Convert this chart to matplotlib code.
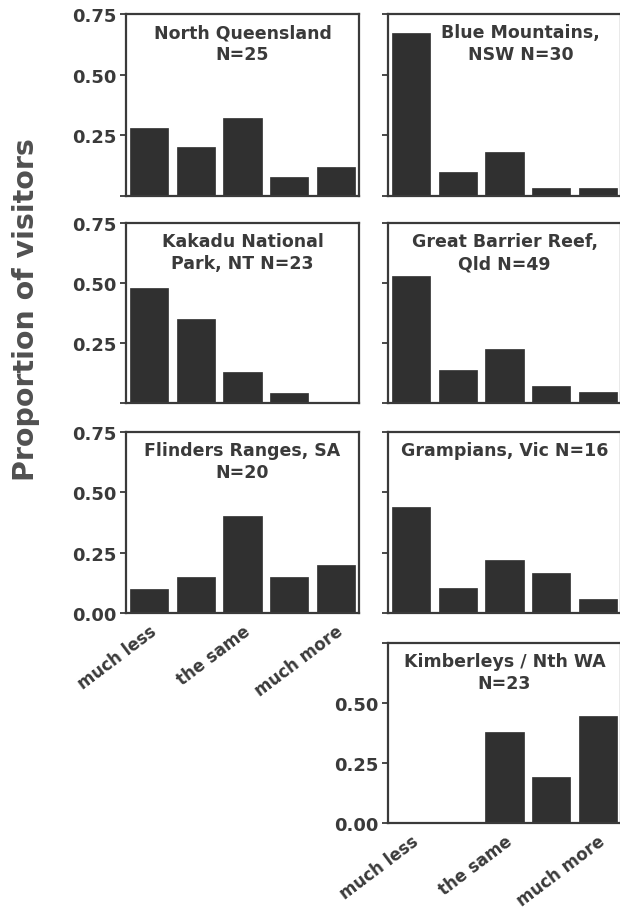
#Proportion of visitors by region, small multiples of bar charts

import numpy as np
import matplotlib
matplotlib.use('Agg')
import matplotlib.pyplot as plt

#response categories (only every second one is labelled on the axis)
categories = ['much less', 'less', 'the same', 'more', 'much more']
xtick_labels = ['much less', 'the same', 'much more']

#panel titles
titles = ['North Queensland\nN=25', 'Blue Mountains,\nNSW N=30',
          'Kakadu National\nPark, NT N=23', 'Great Barrier Reef,\nQld N=49',
          'Flinders Ranges, SA\nN=20', 'Grampians, Vic N=16',
          'Kimberleys / Nth WA\nN=23']

#proportions
north_qld = [0.28, 0.20, 0.32, 0.08, 0.12]
blue_mtns = [0.67, 0.10, 0.18, 0.033, 0.033]
kakadu = [0.478, 0.348, 0.13, 0.04, 0.0]
gbr = [0.53, 0.136, 0.224, 0.07, 0.045]
flinders = [0.10, 0.15, 0.40, 0.15, 0.20]
grampians = [0.44, 0.103, 0.218, 0.165, 0.058]
kimberleys = [0.0, 0.0, 0.38, 0.19, 0.446]

yticks = [0.0, 0.25, 0.5, 0.75]
ytick_labels = ['0.00', '0.25', '0.50', '0.75']

txt_col = '#3a3a3a'
bar_col = '#303030'

#makes one panel
def panel(fig, rect, vals, title, ylab_mask, show_x, title_x=0.5):
    ax = fig.add_axes(rect)
    x = np.arange(len(categories))
    ax.bar(x, vals, width=0.82, color=bar_col, edgecolor=bar_col, linewidth=0.5)
    ax.set_xlim(-0.5, 4.5)
    ax.set_ylim(0, 0.75)
    for s in ax.spines.values():
        s.set_color(txt_col)
        s.set_linewidth(1.6)
    ax.set_yticks(yticks)
    ax.set_yticklabels([l if m else '' for l, m in zip(ytick_labels, ylab_mask)])
    ax.tick_params(axis='y', direction='out', length=4, width=1.3, color=txt_col,
                   labelsize=13, labelcolor=txt_col, pad=3)
    for t in ax.get_yticklabels():
        t.set_fontweight('bold')
    ax.set_xticks(x[::2])
    if show_x:
        ax.set_xticklabels(xtick_labels, rotation=37, ha='right',
                           rotation_mode='anchor', fontsize=12,
                           fontweight='bold', color=txt_col)
        ax.tick_params(axis='x', length=0, pad=6)
    else:
        ax.set_xticklabels([])
        ax.tick_params(axis='x', length=0)
    ax.text(title_x, 0.95, title, transform=ax.transAxes, ha='center', va='top',
            fontsize=12.5, fontweight='bold', color=txt_col, linespacing=1.3)
    return ax

if __name__ == '__main__':
    W, H = 620, 912
    fig = plt.figure(figsize=(W/100, H/100), dpi=100)
    plt.rcParams['font.family'] = ['DejaVu Sans']

    lx, rx, aw = 126/W, 388/W, 233/W
    #rows as (top px, bottom px)
    rows = [(15, 197), (224, 404), (433, 614), (644, 824)]
    rects = []
    for top, bot in rows:
        rects.append((1 - bot/H, (bot - top)/H))

    no0 = [False, True, True, True]
    none = [False, False, False, False]
    panel(fig, [lx, rects[0][0], aw, rects[0][1]], north_qld, titles[0], no0, False)
    panel(fig, [rx, rects[0][0], aw, rects[0][1]], blue_mtns, titles[1], none, False, 0.57)
    panel(fig, [lx, rects[1][0], aw, rects[1][1]], kakadu, titles[2], no0, False)
    panel(fig, [rx, rects[1][0], aw, rects[1][1]], gbr, titles[3], none, False)
    panel(fig, [lx, rects[2][0], aw, rects[2][1]], flinders, titles[4], [True]*4, True)
    panel(fig, [rx, rects[2][0], aw, rects[2][1]], grampians, titles[5], none, False)
    panel(fig, [rx, rects[3][0], aw, rects[3][1]], kimberleys, titles[6],
          [True, True, True, False], True)

    fig.text(26/W, 1 - 310/H, 'Proportion of visitors', rotation=90, ha='center',
             va='center', fontsize=20.5, fontweight='bold', color='#505050')

    fig.savefig('out.png', dpi=100)
    plt.close()
